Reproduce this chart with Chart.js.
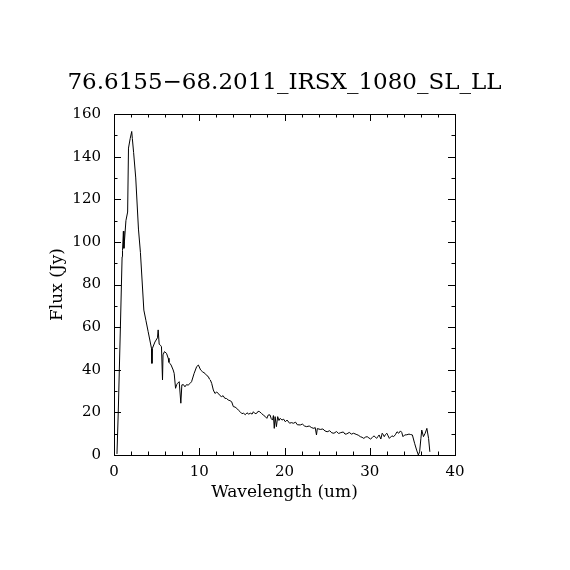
<!DOCTYPE html>
<html>
<head>
<meta charset="utf-8">
<script src="https://cdn.jsdelivr.net/npm/chart.js@4"></script>
<style>
  html, body { margin: 0; padding: 0; background: #fff; }
  #wrap { width: 570px; height: 570px; }
</style>
</head>
<body>
<div id="wrap"><canvas id="myChart" width="570" height="570"></canvas></div>
<script>
const titulo = '76.6155\u221268.2011_IRSX_1080_SL_LL';
const ejeX = 'Wavelength (um)';
const ejeY = 'Flux (Jy)';

// wavelength (um)
const wl = [0.35, 0.5, 0.75, 0.95, 1.0, 1.1, 1.16, 1.22, 1.4, 1.6, 1.7, 1.9, 2.08, 2.15, 2.3, 2.55, 2.87, 3.1, 3.5, 3.75,
  4.0, 4.4, 4.45, 4.5, 4.8, 5.1, 5.18, 5.3, 5.45, 5.57, 5.69, 5.75, 5.92, 6.16, 6.36, 6.45, 6.55, 6.7, 6.94, 7.06,
  7.22, 7.35, 7.45, 7.65, 7.84, 7.96, 8.15, 8.32, 8.5, 8.7, 8.9, 9.1, 9.4, 9.7, 9.9, 10.16, 10.4, 10.67, 10.9, 11.06,
  11.2, 11.3, 11.46, 11.65, 11.84, 12.05, 12.24, 12.4, 12.6, 12.8, 13.0, 13.2, 13.4, 13.6, 13.8, 14.0, 14.2, 14.4, 14.6, 14.8,
  15.0, 15.2, 15.4, 15.6, 15.8, 16.0, 16.2, 16.35, 16.55, 16.75, 16.9, 17.1, 17.3, 17.5, 17.7, 17.93, 18.1, 18.3, 18.45, 18.6,
  18.7, 18.8, 18.9, 19.05, 19.2, 19.35, 19.5, 19.7, 19.9, 20.1, 20.3, 20.6, 20.8, 21.05, 21.3, 21.5, 21.85, 22.1, 22.35, 22.6,
  22.9, 23.2, 23.45, 23.6, 23.75, 23.85, 24.2, 24.5, 24.75, 25.0, 25.3, 25.55, 25.8, 26.1, 26.35, 26.6, 26.9, 27.1, 27.3, 27.6,
  27.85, 28.1, 28.4, 28.65, 28.9, 29.1, 29.3, 29.5, 29.7, 29.9, 30.1, 30.3, 30.5, 30.65, 30.8, 30.95, 31.1, 31.3, 31.46, 31.6,
  31.7, 31.85, 32.0, 32.15, 32.3, 32.45, 32.6, 32.8, 33.0, 33.2, 33.4, 33.6, 33.75, 33.9, 34.1, 34.35, 34.6, 34.8, 35.0, 35.26,
  35.5, 35.7, 35.85, 36.0, 36.1, 36.3, 36.5, 36.7, 36.9, 37.05];

// flux (Jy)
const flux = [0.5, 20, 60, 93, 96, 105, 97, 100, 110, 114, 144, 148.5, 151.8, 148.5, 142, 130, 106, 95, 68, 63,
  58, 50, 43, 50, 53, 55, 58.7, 52, 51.5, 50.8, 35.2, 47, 48.5, 47.7, 45.4, 43.5, 43, 42.2, 39.9, 38.3,
  31.3, 33, 33.6, 34.4, 24.3, 32.9, 33, 32, 33, 32.8, 33.5, 34.4, 38.3, 41.5, 42.2, 39.9, 39, 38.3, 37.2, 36.8,
  35.6, 35.2, 33.6, 30.5, 28.9, 29.5, 28.9, 28, 27.4, 27.8, 26.6, 26.5, 25.8, 25.5, 25, 22.7, 22.5, 21.9, 21, 20.3,
  19.4, 19.6, 18.9, 19.8, 19.2, 19.6, 19.2, 20.3, 19.4, 19.6, 20.5, 20.3, 19.5, 18.8, 18.2, 17.2, 18.8, 18.8, 17, 16.4,
  18.5, 12.5, 18, 13.3, 18, 16.2, 17.2, 16.4, 16.8, 15.6, 16.4, 14.9, 15.2, 14.9, 15.4, 14.2, 14.1, 14.5, 13.6, 13.3,
  13.6, 12.8, 12.5, 12.9, 9.4, 12.4, 12, 12.2, 11.3, 10.9, 11.4, 10.4, 10.2, 11, 10.1, 10.5, 10.8, 9.8, 9.9, 10.6,
  9.8, 10.2, 9.7, 9.3, 8.6, 8.3, 7.8, 8.4, 8.6, 8.0, 7.5, 8.2, 9.0, 8.4, 7.8, 8.6, 9.4, 7.5, 10.2, 9.5,
  8.6, 9.6, 10.2, 9.0, 7.8, 8.4, 9.0, 8.6, 9.5, 10.9, 10.2, 11.3, 10.6, 8.6, 9.4, 9.5, 9.8, 9.6, 9.4, 5.5,
  2.3, 0, 1.5, 7.8, 11.7, 8.6, 10.2, 12.5, 7.8, 1.5];

const xMin = 0, xMax = 40, xMajor = 10, xMinor = 2;
const yMin = 0, yMax = 160, yMajor = 20, yMinor = 10;

const fuente = "'DejaVu Serif', serif";

// caja + ticks hacia adentro en los 4 lados, y titulo arriba
const marco = {
  id: 'marco',
  beforeDraw(chart) {
    const ctx = chart.ctx;
    ctx.save();
    ctx.fillStyle = '#fff';
    ctx.fillRect(0, 0, chart.width, chart.height);
    ctx.restore();
  },
  afterDraw(chart) {
    const ctx = chart.ctx;
    const a = chart.chartArea;
    const sx = chart.scales.x, sy = chart.scales.y;
    ctx.save();
    ctx.strokeStyle = '#000';
    ctx.lineWidth = 1;
    ctx.strokeRect(Math.round(a.left) + 0.5, Math.round(a.top) + 0.5,
      Math.round(a.right - a.left), Math.round(a.bottom - a.top));
    ctx.beginPath();
    for (let v = xMin; v <= xMax + 1e-9; v += xMinor) {
      const px = Math.round(sx.getPixelForValue(v)) + 0.5;
      const len = (Math.abs(v % xMajor) < 1e-9) ? 7 : 3.5;
      ctx.moveTo(px, a.bottom); ctx.lineTo(px, a.bottom - len);
      ctx.moveTo(px, a.top); ctx.lineTo(px, a.top + len);
    }
    for (let v = yMin; v <= yMax + 1e-9; v += yMinor) {
      const py = Math.round(sy.getPixelForValue(v)) + 0.5;
      const len = (Math.abs(v % yMajor) < 1e-9) ? 7 : 3.5;
      ctx.moveTo(a.left, py); ctx.lineTo(a.left + len, py);
      ctx.moveTo(a.right, py); ctx.lineTo(a.right - len, py);
    }
    ctx.stroke();
    ctx.fillStyle = '#000';
    ctx.font = '23px ' + fuente;
    ctx.textAlign = 'center';
    ctx.textBaseline = 'alphabetic';
    ctx.fillText(titulo, (a.left + a.right) / 2, 89);
    ctx.restore();
  }
};

const ctx = document.getElementById('myChart');
const myChart = new Chart(ctx, {
  type: 'scatter',
  data: {
    datasets: [{
      label: titulo,
      data: wl.map((x, i) => ({ x: x, y: flux[i] })),
      showLine: true,
      borderColor: '#000',
      backgroundColor: '#000',
      borderWidth: 1,
      pointRadius: 0,
      tension: 0
    }]
  },
  options: {
    responsive: false,
    animation: false,
    devicePixelRatio: 1,
    layout: { padding: { left: 0, right: 115, top: 114, bottom: 0 } },
    plugins: {
      legend: { display: false },
      tooltip: { enabled: false },
      title: { display: false }
    },
    scales: {
      x: {
        type: 'linear',
        min: xMin, max: xMax,
        afterFit: s => { s.height = 115; },
        border: { display: false },
        grid: { display: false, drawTicks: false },
        ticks: {
          stepSize: xMajor, color: '#000', padding: 8, maxRotation: 0,
          font: { family: fuente, size: 15 }
        },
        title: {
          display: true, text: ejeX, color: '#000',
          font: { family: fuente, size: 17 },
          padding: { top: 0, bottom: 67 }
        }
      },
      y: {
        type: 'linear',
        min: yMin, max: yMax,
        afterFit: s => { s.width = 114; },
        border: { display: false },
        grid: { display: false, drawTicks: false },
        ticks: {
          stepSize: yMajor, color: '#000', padding: 13,
          font: { family: fuente, size: 15 }
        },
        title: {
          display: true, text: ejeY, color: '#000',
          font: { family: fuente, size: 17 },
          padding: { top: 47, bottom: 0 }
        }
      }
    }
  },
  plugins: [marco]
});
</script>
</body>
</html>
